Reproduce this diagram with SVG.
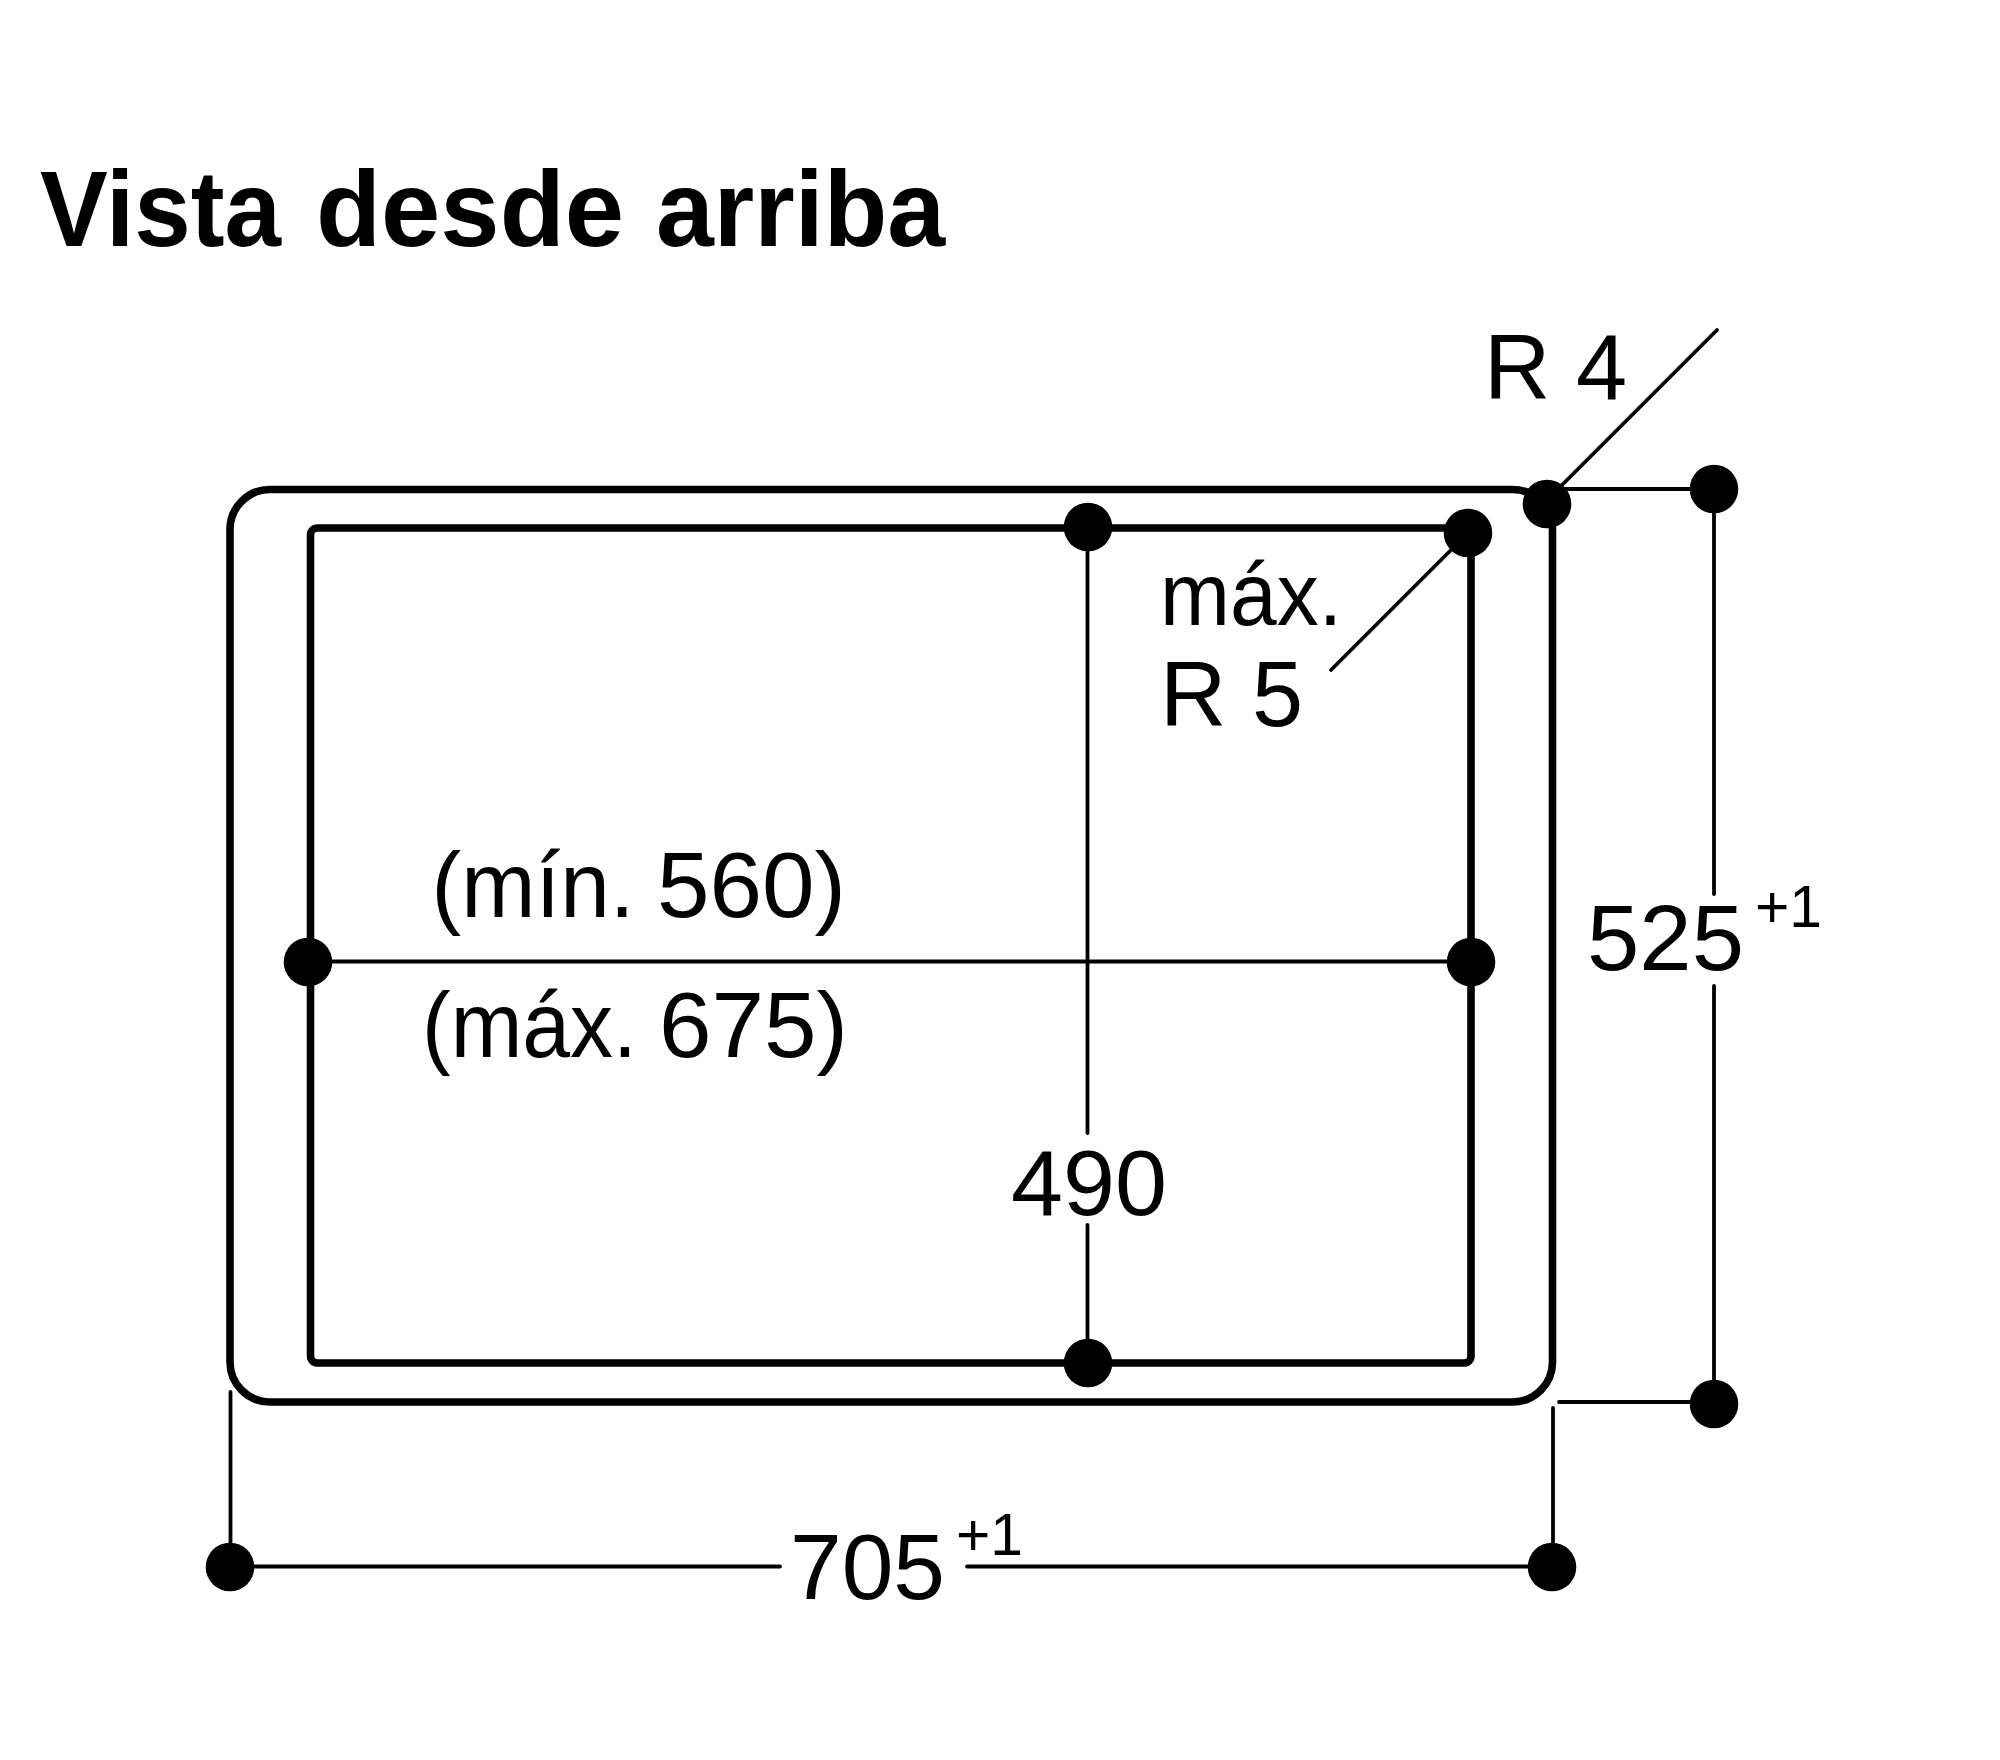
<svg xmlns="http://www.w3.org/2000/svg" width="2000" height="1760" viewBox="0 0 2000 1760">
<style>
.bg{fill:#fff}
.edge{fill:none;stroke:#000;stroke-width:7.600}
.thin{fill:none;stroke:#000;stroke-width:3.800;stroke-linecap:round}
.dot{fill:#000}
text{font-family:"Liberation Sans",Arial,Helvetica,sans-serif;fill:#000}
.t{font-size:93px}
.m{font-size:89px}
.s{font-size:60px}
.title{font-size:108px;font-weight:700}
</style>
<rect class="bg" width="2000" height="1760"/>
<g id="title"><text class="title" y="246"><tspan x="40" textLength="241" lengthAdjust="spacingAndGlyphs">Vista</tspan> <tspan x="316" textLength="308" lengthAdjust="spacingAndGlyphs">desde</tspan> <tspan x="656" textLength="289" lengthAdjust="spacingAndGlyphs">arriba</tspan></text></g>
<g id="outline">
<rect class="edge" x="230" y="489.500" width="1322.500" height="912.500" rx="40" ry="40"/>
<rect class="edge" x="310.500" y="528" width="1160.500" height="835" rx="7" ry="7"/>
</g>
<g id="connectors">
<path class="thin" d="M1717 330L1553 494"/>
<path class="thin" d="M1547 489H1714"/>
<path class="thin" d="M1331 670L1468 533"/>
<path class="thin" d="M1087.500 527V1133M1087.500 1225V1363"/>
<path class="thin" d="M308 961.500H1479"/>
<path class="thin" d="M1714 489V894M1714 986V1404"/>
<path class="thin" d="M1559 1402H1714"/>
<path class="thin" d="M230.500 1392V1567"/>
<path class="thin" d="M1553 1408V1567"/>
<path class="thin" d="M230 1566.500H780M967 1566.500H1552"/>
</g>
<g id="dots">
<circle class="dot" cx="1547" cy="504" r="24.300"/>
<circle class="dot" cx="1714" cy="489" r="24.300"/>
<circle class="dot" cx="1468" cy="533" r="24.300"/>
<circle class="dot" cx="1088" cy="527" r="24.300"/>
<circle class="dot" cx="308" cy="962" r="24.300"/>
<circle class="dot" cx="1471" cy="962" r="24.300"/>
<circle class="dot" cx="1088" cy="1363" r="24.300"/>
<circle class="dot" cx="1714" cy="1404" r="24.300"/>
<circle class="dot" cx="230" cy="1567" r="24.300"/>
<circle class="dot" cx="1552" cy="1567" r="24.300"/>
</g>
<g id="labels">
<text class="t" x="1484" y="399" textLength="143" lengthAdjust="spacingAndGlyphs">R 4</text>
<text class="m" x="1160" y="625" textLength="182" lengthAdjust="spacingAndGlyphs">máx.</text>
<text class="t" x="1160" y="726" textLength="143" lengthAdjust="spacingAndGlyphs">R 5</text>
<text class="t" y="917"><tspan x="431.500" textLength="203" lengthAdjust="spacingAndGlyphs">(mín.</tspan> <tspan x="657" textLength="189" lengthAdjust="spacingAndGlyphs">560)</tspan></text>
<text class="t" y="1057"><tspan x="422" textLength="215" lengthAdjust="spacingAndGlyphs">(máx.</tspan> <tspan x="659" textLength="189" lengthAdjust="spacingAndGlyphs">675)</tspan></text>
<text class="t" x="1011" y="1215" textLength="156" lengthAdjust="spacingAndGlyphs">490</text>
<text class="t" x="1587" y="970" textLength="157" lengthAdjust="spacingAndGlyphs">525</text>
<text class="s" x="1755" y="927" textLength="67" lengthAdjust="spacingAndGlyphs">+1</text>
<text class="t" x="790" y="1599" textLength="155" lengthAdjust="spacingAndGlyphs">705</text>
<text class="s" x="956" y="1555" textLength="67" lengthAdjust="spacingAndGlyphs">+1</text>
</g>
</svg>
